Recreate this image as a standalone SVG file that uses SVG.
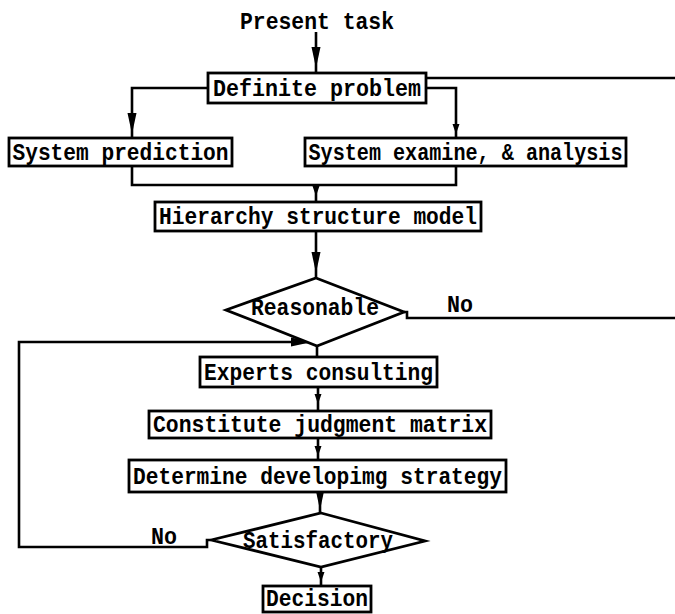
<svg xmlns="http://www.w3.org/2000/svg" xmlns:xlink="http://www.w3.org/1999/xlink" width="675" height="614" viewBox="0 0 675 614">
<style>
.box{fill:#fff;stroke:#000;stroke-width:2.8}
.ln{fill:none;stroke:#000;stroke-width:2.6}
.t{font-family:"Liberation Mono","DejaVu Sans Mono",monospace;font-weight:bold;font-size:23px;fill:#000;text-anchor:middle}
.ah{fill:#000}
</style>
<defs>
<path id="ah" d="M0,0 L-4.5,-21 L4.5,-21 Z"/>
<path id="ahs" d="M0,0 L-3.5,-10 L3.5,-10 Z"/>
</defs>
<rect width="675" height="614" fill="#fff"/>
<g id="connectors">
<path class="ln" d="M316,32 L316,73"/>
<use href="#ah" class="ah" x="316" y="68"/>
<path class="ln" d="M426,78 L675,78"/>
<path class="ln" d="M208,88 L132,88 L132,138"/>
<use href="#ah" class="ah" x="132" y="134"/>
<path class="ln" d="M426,88 L456,88 L456,138"/>
<use href="#ahs" class="ah" x="456" y="134"/>
<path class="ln" d="M132,166 L132,185 L456,185 L456,166 M316,185 L316,202"/>
<use href="#ahs" class="ah" x="316" y="196"/>
<path class="ln" d="M316,231 L316,278"/>
<use href="#ah" class="ah" x="316" y="273"/>
<path class="ln" d="M404,312 L407,312 L407,318 L675,318"/>
<path class="ln" d="M317,346 L317,357"/>
<path class="ln" d="M211,540 L207,540 L207,547 L19,547 L19,342 L317,342"/>
<use href="#ah" class="ah" transform="translate(312,342) rotate(-90)"/>
<path class="ln" d="M318,387 L318,411"/>
<use href="#ahs" class="ah" x="318" y="404"/>
<path class="ln" d="M318,438 L318,460"/>
<use href="#ahs" class="ah" x="318" y="456"/>
<path class="ln" d="M320,492 L320,513"/>
<use href="#ah" class="ah" x="320" y="510"/>
<path class="ln" d="M321,567 L321,586"/>
<use href="#ahs" class="ah" x="321" y="582"/>
<text class="t" x="460" y="312" textLength="26" lengthAdjust="spacingAndGlyphs">No</text>
<text class="t" x="164" y="544" textLength="26" lengthAdjust="spacingAndGlyphs">No</text>
</g>
<g id="present-task">
<text class="t" x="317" y="29" textLength="154" lengthAdjust="spacingAndGlyphs">Present task</text>
</g>
<g id="definite-problem">
<rect class="box" x="208" y="73" width="218" height="30"/>
<text class="t" x="317" y="96" textLength="208" lengthAdjust="spacingAndGlyphs">Definite problem</text>
</g>
<g id="system-prediction">
<rect class="box" x="9" y="138" width="223" height="28"/>
<text class="t" x="120.5" y="160" textLength="216" lengthAdjust="spacingAndGlyphs">System prediction</text>
</g>
<g id="system-examine">
<rect class="box" x="305" y="138" width="321" height="28"/>
<text class="t" x="465.5" y="160" textLength="314" lengthAdjust="spacingAndGlyphs">System examine, &amp; analysis</text>
</g>
<g id="hierarchy">
<rect class="box" x="155" y="202" width="326" height="29"/>
<text class="t" x="318" y="224" textLength="318" lengthAdjust="spacingAndGlyphs">Hierarchy structure model</text>
</g>
<g id="reasonable">
<polygon class="box" points="316,278 404,312 317,346 226,310"/>
<text class="t" x="315" y="315" textLength="128" lengthAdjust="spacingAndGlyphs">Reasonable</text>
</g>
<g id="experts">
<rect class="box" x="200" y="357" width="237" height="30"/>
<text class="t" x="318.5" y="380" textLength="229" lengthAdjust="spacingAndGlyphs">Experts consulting</text>
</g>
<g id="constitute">
<rect class="box" x="149" y="411" width="342" height="27"/>
<text class="t" x="320" y="432" textLength="334" lengthAdjust="spacingAndGlyphs">Constitute judgment matrix</text>
</g>
<g id="determine">
<rect class="box" x="129" y="460" width="377" height="32"/>
<text class="t" x="317.5" y="484" textLength="369" lengthAdjust="spacingAndGlyphs">Determine developimg strategy</text>
</g>
<g id="satisfactory">
<polygon class="box" points="321,513 425,541 321,567 211,540"/>
<text class="t" x="318" y="548" textLength="150" lengthAdjust="spacingAndGlyphs">Satisfactory</text>
</g>
<g id="decision">
<rect class="box" x="263" y="586" width="108" height="26"/>
<text class="t" x="317" y="606" textLength="102" lengthAdjust="spacingAndGlyphs">Decision</text>
</g>
</svg>
